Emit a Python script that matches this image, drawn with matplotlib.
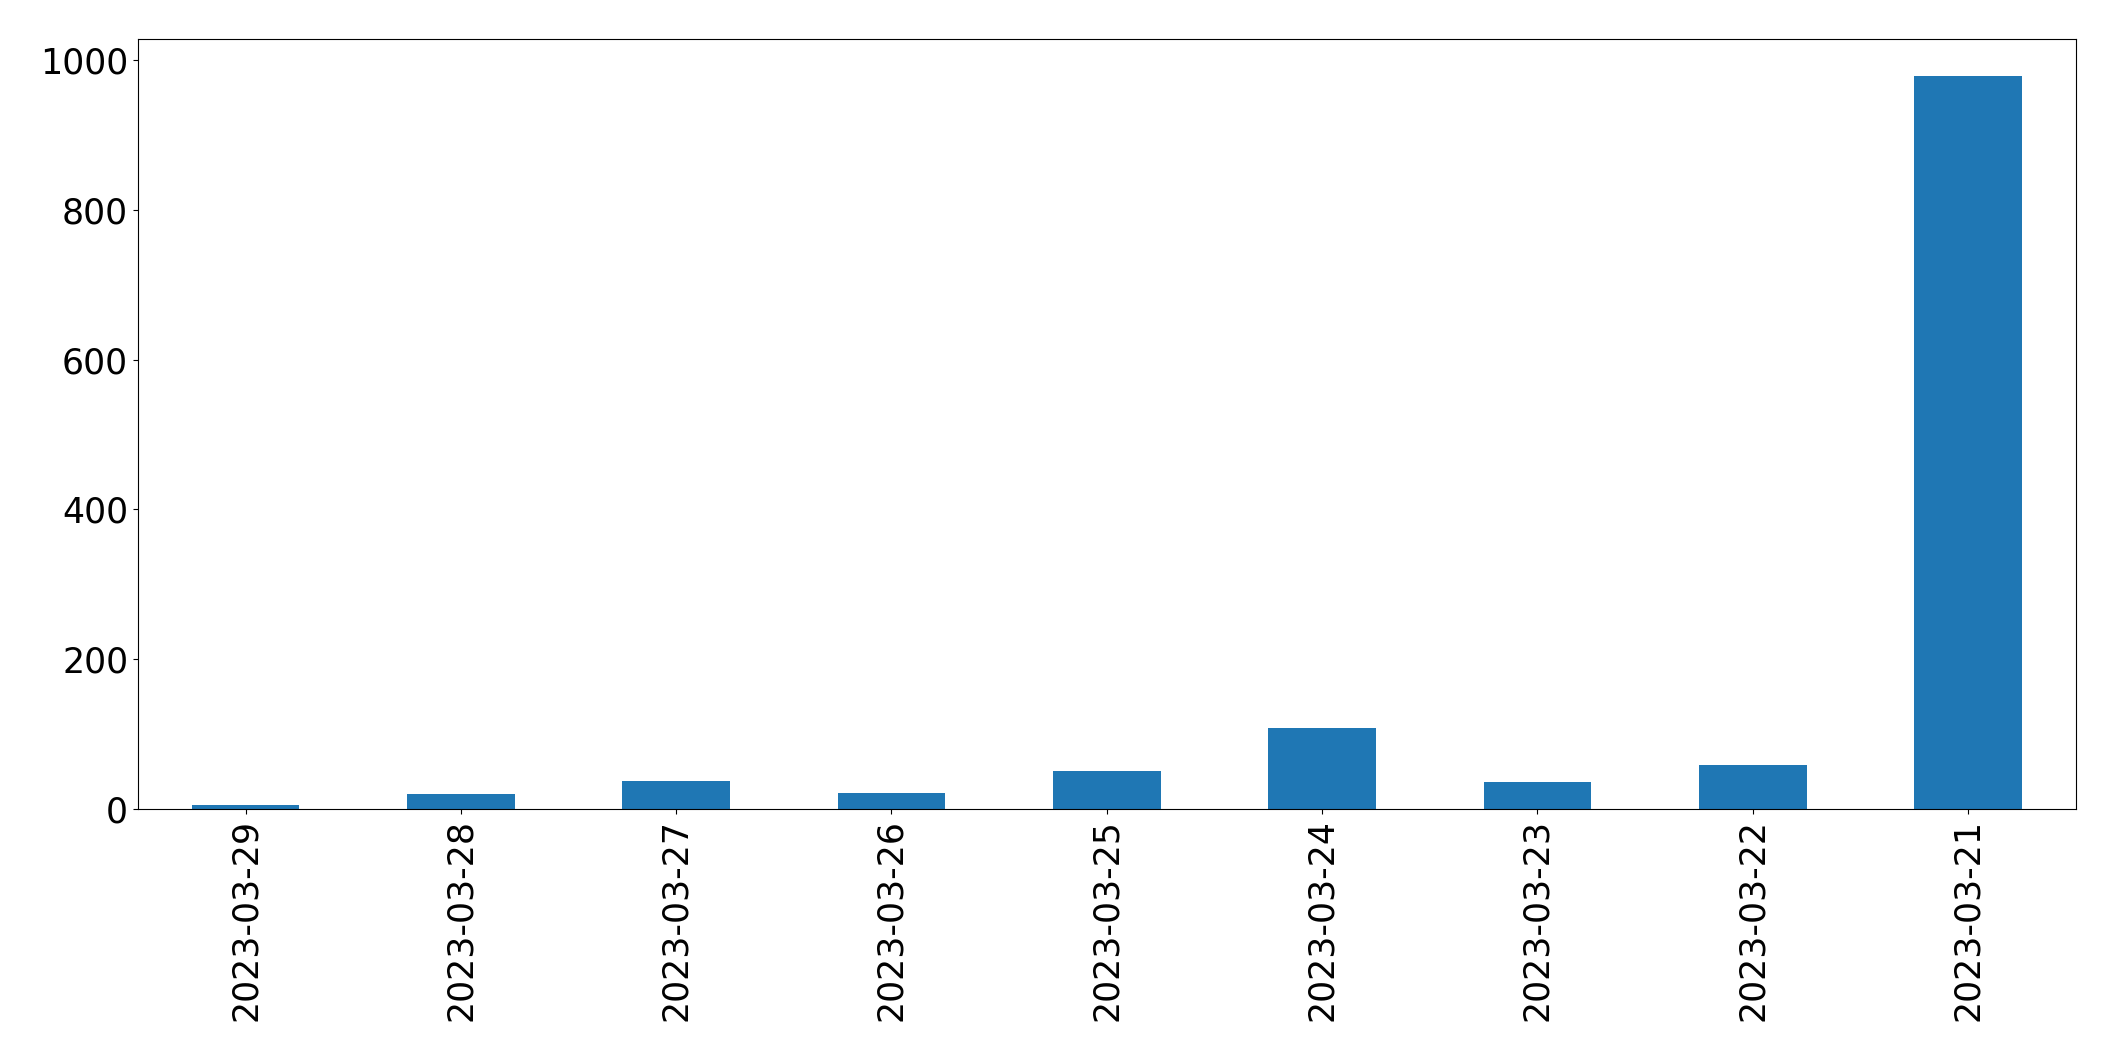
import matplotlib
matplotlib.use('Agg')
import matplotlib.pyplot as plt
import numpy as np

dates  = ['2023-03-29', '2023-03-28', '2023-03-27', '2023-03-26', '2023-03-25',
          '2023-03-24', '2023-03-23', '2023-03-22', '2023-03-21']
counts = [5, 20, 37, 21, 51, 108, 36, 59, 979]

fig, ax = plt.subplots(figsize=(21.15, 10.61), dpi=100)
x = np.arange(len(dates))
ax.bar(x, counts, width=0.5, color='#1f77b4')
ax.set_xlim(-0.5, len(dates) - 0.5)
ax.set_xticks(x)
ax.set_xticklabels(dates, rotation=90)
ax.tick_params(labelsize=25)
ax.set_yticks([0, 200, 400, 600, 800, 1000])

fig.subplots_adjust(left=0.0652, right=0.9814, top=0.963, bottom=0.2375)
fig.savefig('out.png', dpi=100)
